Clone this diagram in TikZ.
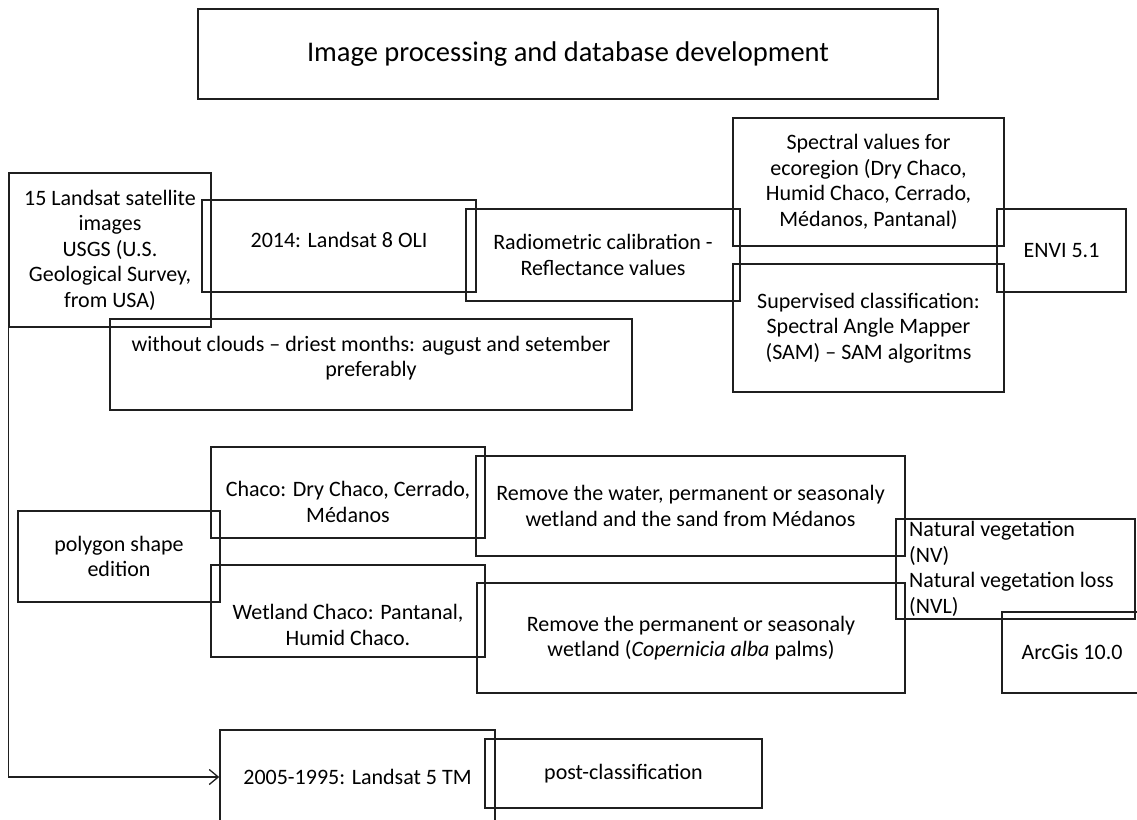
\documentclass[tikz,border=0pt]{standalone}
\usepackage{fontspec}
\setmainfont{Carlito}
\usetikzlibrary{arrows.meta}
\newcommand\bfnt{\fontsize{22}{25.5}\selectfont}
\newcommand\tfnt{\fontsize{28.5}{34}\selectfont}
\tikzset{
  box/.style={draw=black!88, line width=1.5pt, rectangle, inner sep=0pt, align=center, font=\bfnt},
  txt/.style={inner sep=0pt, align=center, font=\bfnt},
  conn/.style={draw=black!88, line width=1.3pt, -{Straight Barb[length=9pt,width=15pt,line width=1.3pt]}}
}
\begin{document}
\begin{tikzpicture}[x=1pt,y=-1pt]
\useasboundingbox (0,0) rectangle (1137,819);
\clip (0,0) rectangle (1137,819);
% title
\node[box, font=\tfnt, minimum width=740pt, minimum height=90pt] (T) at (568,54) {Image processing and database development};
% top row
\node[box, minimum width=202pt, minimum height=154pt] (A) at (110,250) {15 Landsat satellite\\images\\USGS (U.S.\\Geological Survey,\\from USA)};
\node[box, minimum width=274pt, minimum height=92pt] (B) at (339,246) {};
\node[txt] (Bt) at (339,240) {2014: Landsat 8 OLI};
\node[box, minimum width=274pt, minimum height=92pt] (C) at (603,255) {Radiometric calibration -\\Reflectance values};
\node[box, minimum width=271pt, minimum height=128pt] (D) at (868.5,182) {Spectral values for\\ecoregion (Dry Chaco,\\Humid Chaco, Cerrado,\\Médanos, Pantanal)};
\node[box, minimum width=271pt, minimum height=128pt] (E) at (868.5,328) {Supervised classification:\\Spectral Angle Mapper\\(SAM) – SAM algoritms};
\node[box, minimum width=129pt, minimum height=83pt] (F) at (1061.5,250.5) {ENVI 5.1};
\node[box, minimum width=522pt, minimum height=91pt] (G) at (371,364.5) {};
\node[txt] (Gt) at (371,358) {without clouds – driest months: august and setember\\preferably};
% middle row
\node[box, minimum width=274pt, minimum height=91pt] (H) at (348,492.5) {};
\node[txt] (Ht) at (348,502) {Chaco: Dry Chaco, Cerrado,\\Médanos};
\node[box, minimum width=429pt, minimum height=100pt] (I) at (690.5,506) {Remove the water, permanent or seasonaly\\wetland and the sand from Médanos};
\node[box, minimum width=202pt, minimum height=91pt] (J) at (119,556.5) {polygon shape\\edition};
\node[box, minimum width=274pt, minimum height=92pt] (K) at (348,611) {};
\node[txt] (Kt) at (348,625) {Wetland Chaco: Pantanal,\\Humid Chaco.};
\node[box, minimum width=428pt, minimum height=110pt] (L) at (691,638) {Remove the permanent or seasonaly\\wetland (\textit{Copernicia alba} palms)};
\node[box, minimum width=239pt, minimum height=100pt] (M) at (1015.5,569) {};
\node[txt, anchor=west, align=left] (Mt) at (909,569) {Natural vegetation\\(NV)\\Natural vegetation loss\\(NVL)};
\node[box, minimum width=140pt, minimum height=81pt] (N) at (1072,652.5) {ArcGis 10.0};
% bottom row
\node[box, minimum width=275pt, minimum height=94pt] (O) at (357.5,777) {2005-1995: Landsat 5 TM};
\node[box, minimum width=277pt, minimum height=69pt] (P) at (623.5,773.5) {post-classification};
% connector
\draw[conn] (A.south west) |- (O.west);
\end{tikzpicture}
\end{document}
